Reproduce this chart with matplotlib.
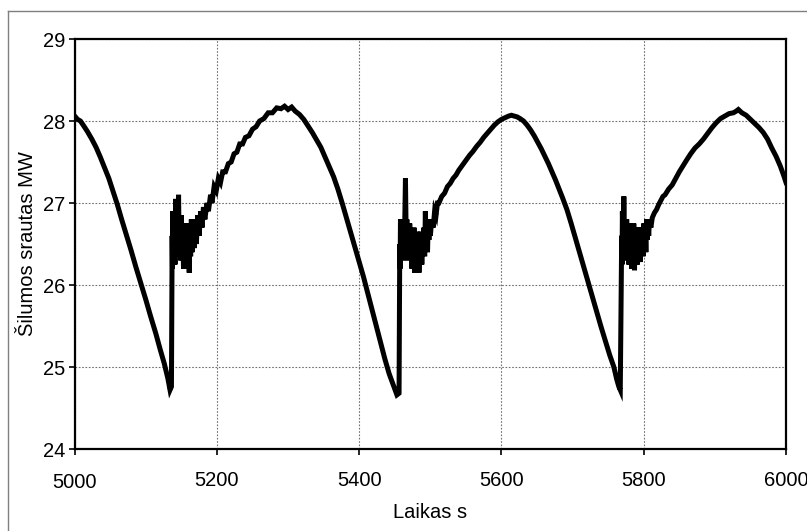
import matplotlib
matplotlib.use("Agg")
import matplotlib.pyplot as plt
from matplotlib.lines import Line2D

# ---- data ----
time_s = [
    5000, 5004, 5008, 5012, 5018, 5024, 5030, 5036, 5042, 5048, 5054, 5060, 5066, 5072,
    5079, 5086, 5093, 5100, 5107, 5114, 5120, 5126, 5131, 5134, 5136,
    5137, 5137.5, 5138, 5139, 5140, 5141, 5142, 5143, 5144, 5145, 5146, 5147, 5148, 5149,
    5150, 5151, 5152, 5153, 5154, 5155, 5156, 5157, 5158, 5159, 5160, 5161, 5162, 5163,
    5164, 5165, 5167, 5168, 5170, 5171, 5173, 5175, 5177, 5179, 5181, 5183, 5186, 5188,
    5191, 5193, 5196, 5199, 5202, 5205, 5208, 5212, 5216, 5220, 5224, 5228, 5232, 5236,
    5240, 5245, 5250, 5255, 5260, 5266, 5272, 5278, 5284, 5290, 5295, 5300, 5305, 5310,
    5316, 5322, 5328, 5334, 5340, 5346, 5352, 5358, 5364, 5370, 5376, 5382, 5388, 5394,
    5400, 5406, 5412, 5418, 5424, 5430, 5436, 5442, 5448, 5453, 5456,
    5457, 5457.5, 5458, 5459, 5460, 5461, 5462, 5463, 5464, 5465, 5466, 5467, 5468, 5469,
    5470, 5471, 5472, 5473, 5474, 5475, 5476, 5477, 5478, 5479, 5480, 5481, 5482, 5483,
    5484, 5485, 5486, 5487, 5488, 5489, 5490, 5491, 5492, 5493, 5494, 5495, 5496, 5497,
    5498, 5499, 5500, 5502, 5504, 5506, 5508, 5510, 5512,
    5516, 5520, 5524, 5528, 5532, 5536, 5540, 5545, 5550, 5555, 5560, 5565, 5570, 5575,
    5580, 5585, 5590, 5595, 5600, 5605, 5610, 5614, 5618, 5622, 5626, 5631, 5636, 5641,
    5646, 5651, 5656, 5661, 5666, 5671, 5676, 5681, 5686, 5692, 5698, 5704, 5710, 5716,
    5722, 5728, 5734, 5740, 5746, 5752, 5758, 5762, 5765, 5767,
    5769, 5769.5, 5770, 5771, 5772, 5773, 5774, 5775, 5776, 5777, 5778, 5779, 5780, 5781,
    5782, 5783, 5784, 5785, 5786, 5787, 5788, 5789, 5790, 5791, 5792, 5793, 5794, 5795,
    5796, 5797, 5798, 5799, 5800, 5801, 5802, 5803, 5804, 5805, 5806, 5807, 5808, 5810,
    5812, 5815, 5818, 5821, 5824, 5827, 5830, 5835, 5840, 5845, 5850, 5855, 5860, 5866,
    5872, 5878, 5884, 5890, 5896, 5902, 5908, 5914, 5920, 5926, 5930, 5933, 5938, 5944,
    5950, 5956, 5962, 5968, 5974, 5980, 5986, 5992, 5997, 6000,
]
heat_mw = [
    28.06, 28.02, 28.00, 27.95, 27.87, 27.78, 27.68, 27.56, 27.43, 27.30, 27.14, 26.98, 26.80, 26.63,
    26.43, 26.22, 26.02, 25.82, 25.61, 25.41, 25.22, 25.04, 24.86, 24.72, 24.76,
    26.60, 26.20, 26.90, 26.40, 26.70, 26.25, 27.05, 26.50, 26.80, 26.35, 27.10, 26.40, 26.75, 26.30,
    26.85, 26.35, 26.60, 26.20, 26.75, 26.25, 26.65, 26.20, 26.70, 26.30, 26.75, 26.15, 26.60, 26.35,
    26.80, 26.40, 26.70, 26.45, 26.80, 26.50, 26.85, 26.60, 26.90, 26.70, 26.95, 26.80, 27.00, 26.90,
    27.10, 27.00, 27.20, 27.15, 27.30, 27.25, 27.38, 27.38, 27.48, 27.50, 27.60, 27.62, 27.72, 27.72,
    27.80, 27.82, 27.90, 27.93, 28.00, 28.03, 28.10, 28.10, 28.16, 28.15, 28.18, 28.14, 28.17, 28.12,
    28.08, 28.02, 27.94, 27.86, 27.77, 27.68, 27.56, 27.44, 27.32, 27.17, 27.00, 26.82, 26.64, 26.46,
    26.28, 26.10, 25.90, 25.70, 25.50, 25.30, 25.10, 24.92, 24.78, 24.66, 24.68,
    26.50, 26.20, 26.80, 26.40, 26.70, 26.30, 26.80, 26.50, 26.75, 27.30, 26.60, 26.80, 26.30, 26.70,
    26.40, 26.75, 26.35, 26.65, 26.20, 26.60, 26.30, 26.70, 26.15, 26.55, 26.30, 26.65, 26.20, 26.60,
    26.15, 26.55, 26.35, 26.65, 26.25, 26.60, 26.40, 26.70, 26.35, 26.90, 26.45, 26.70, 26.40, 26.75,
    26.55, 26.80, 26.60, 26.80, 26.70, 26.90, 26.85, 27.00, 27.00,
    27.08, 27.12, 27.20, 27.24, 27.30, 27.34, 27.40, 27.46, 27.52, 27.58, 27.63, 27.69, 27.74, 27.80,
    27.85, 27.90, 27.95, 27.99, 28.02, 28.04, 28.06, 28.07, 28.06, 28.05, 28.03, 28.00, 27.95, 27.89,
    27.82, 27.74, 27.66, 27.57, 27.48, 27.38, 27.28, 27.17, 27.06, 26.92, 26.75, 26.57, 26.39, 26.21,
    26.03, 25.85, 25.67, 25.49, 25.32, 25.15, 25.00, 24.85, 24.76, 24.72,
    26.60, 26.25, 26.90, 26.40, 27.08, 26.50, 26.75, 26.30, 26.80, 26.35, 26.70, 26.25, 26.75, 26.40,
    26.70, 26.20, 26.65, 26.35, 26.75, 26.18, 26.60, 26.30, 26.70, 26.25, 26.60, 26.35, 26.70, 26.28,
    26.65, 26.40, 26.70, 26.35, 26.75, 26.45, 26.70, 26.40, 26.80, 26.55, 26.75, 26.60, 26.80, 26.70,
    26.82, 26.88, 26.92, 26.98, 27.03, 27.08, 27.10, 27.17, 27.22, 27.30, 27.38, 27.45, 27.52, 27.60,
    27.67, 27.72, 27.78, 27.85, 27.92, 27.98, 28.03, 28.06, 28.09, 28.10, 28.12, 28.14, 28.10, 28.07,
    28.02, 27.97, 27.92, 27.86, 27.78, 27.67, 27.57, 27.45, 27.33, 27.25,
]

x_ticks = [5000, 5200, 5400, 5600, 5800, 6000]
y_ticks = [24, 25, 26, 27, 28, 29]
x_label = "Laikas s"
y_label = "Šilumos srautas MW"

plt.rcParams['font.family'] = ['Liberation Sans', 'DejaVu Sans']

fig = plt.figure(figsize=(8.07, 5.31), dpi=100)
W, H = 807, 531
ax = fig.add_axes([74.7 / W, 1 - 449 / H, (786 - 74.7) / W, (449 - 39) / H])

# outer frame (top and left edges visible)
fig.add_artist(Line2D([8 / W, 8 / W], [0, 1 - 11 / H], transform=fig.transFigure,
                      color='#7f7f7f', lw=1.0))
fig.add_artist(Line2D([8 / W, 1], [1 - 11 / H, 1 - 11 / H], transform=fig.transFigure,
                      color='#7f7f7f', lw=1.0))

ax.plot(time_s, heat_mw, color='black', lw=3.6, solid_joinstyle='miter', zorder=3)

ax.set_xlim(5000, 6000)
ax.set_ylim(24, 29)
ax.set_xticks(x_ticks)
ax.set_yticks(y_ticks)
ax.set_xticklabels([str(v) for v in x_ticks])
ax.set_yticklabels([str(v) for v in y_ticks])
ax.grid(True, color='#707070', lw=0.8, linestyle=(0, (1.5, 1.5)))
ax.set_axisbelow(True)

for s in ax.spines.values():
    s.set_linewidth(1.6)
    s.set_color('black')

ax.tick_params(axis='both', direction='out', length=4.5, width=1.2, labelsize=14.5,
               colors='black')
ax.tick_params(axis='x', pad=11)
ax.tick_params(axis='y', pad=2.5)
ax.xaxis.get_major_ticks()[0].set_pad(13)

ax.set_xlabel(x_label, fontsize=14.5, labelpad=8)
ax.set_ylabel(y_label, fontsize=14.5, labelpad=4)

fig.savefig("out.png", dpi=100)
